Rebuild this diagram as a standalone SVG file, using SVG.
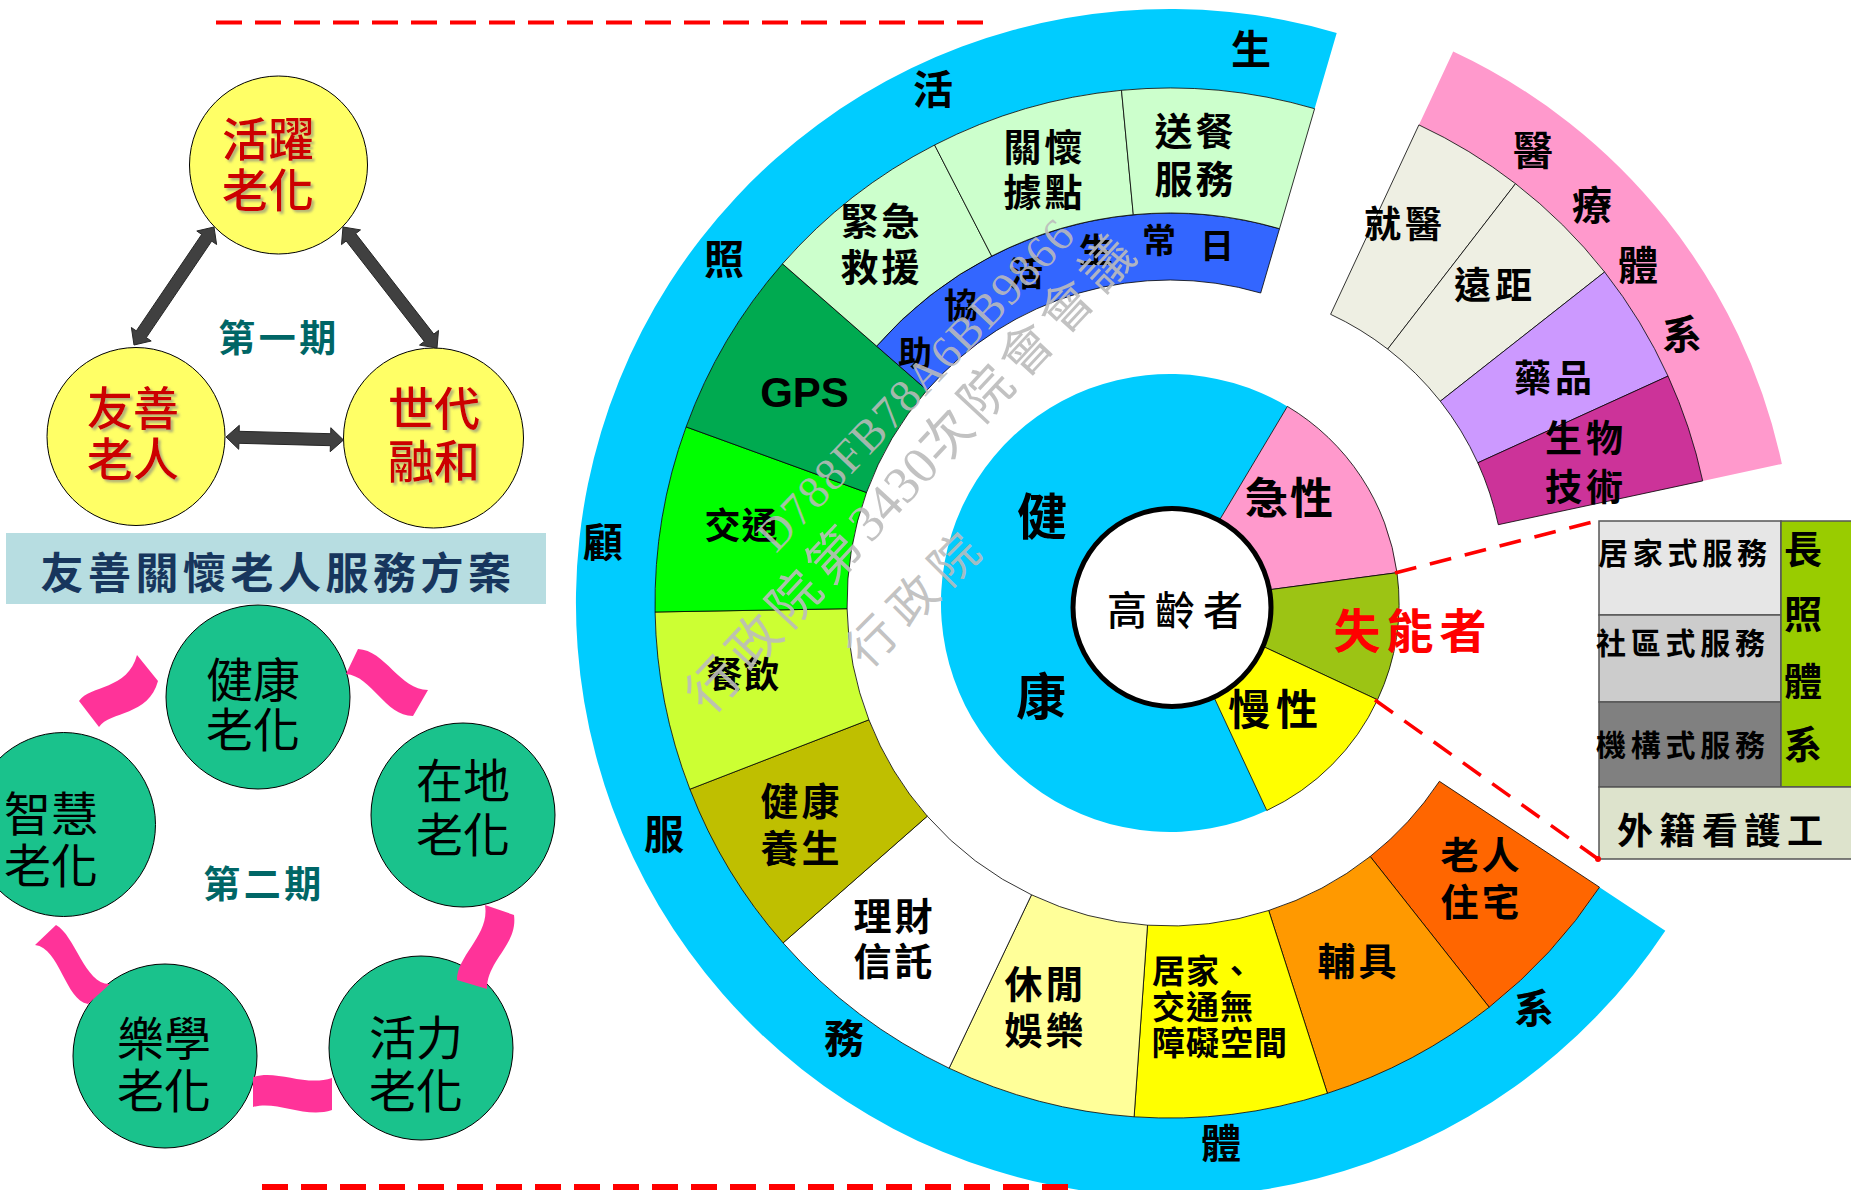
<svg xmlns="http://www.w3.org/2000/svg" width="1851" height="1190" viewBox="0 0 1851 1190">
<defs>
<style>
.b{font-family:"Noto Sans CJK TC","Noto Sans CJK SC",sans-serif;font-weight:700;fill:#000;text-anchor:middle;dominant-baseline:central}
.bs{font-family:"Noto Sans CJK TC","Noto Sans CJK SC",sans-serif;font-weight:700;fill:#000;text-anchor:start;dominant-baseline:central}
.r{font-family:"Noto Sans CJK TC",sans-serif;font-weight:500;fill:#CC0000;font-size:46px;text-anchor:middle;dominant-baseline:central}
.g{font-family:"Noto Sans CJK TC",sans-serif;font-weight:400;fill:#000;font-size:47px;text-anchor:middle;dominant-baseline:central}
.t{font-family:"Noto Sans CJK TC",sans-serif;font-weight:700;fill:#006666;font-size:37px;letter-spacing:3.5px;text-anchor:middle;dominant-baseline:central}
.seg{stroke:#000;stroke-width:0.8}
.wm{font-family:"Liberation Serif","Noto Sans CJK TC",serif;fill:#BBBBBB;fill-opacity:0.9;text-anchor:middle;dominant-baseline:central}
.rib{fill:#FF3399}
.arr{fill:#404040;stroke:#262626;stroke-width:1}
.dash{stroke:#FF0000;fill:none}
.yc{fill:#FFFF66;stroke:#000;stroke-width:1}
.gc{fill:#1AC28C;stroke:#000;stroke-width:1}
.o{font-size:40px}
.m{font-size:38px;letter-spacing:3px}
</style>
<filter id="sh" x="-20%" y="-20%" width="140%" height="140%"><feDropShadow dx="2.5" dy="2.5" stdDeviation="1" flood-color="#808080" flood-opacity="0.6"/></filter>
</defs>
<rect width="1851" height="1190" fill="#FFFFFF"/>

<!-- Phase 1 -->
<g id="phase1">
  <g id="node-huoyue"><circle class="yc" cx="278.5" cy="165" r="89"/>
    <g filter="url(#sh)"><text class="r" x="268" y="135.5">活躍</text><text class="r" x="268" y="187">老化</text></g></g>
  <g id="node-youshan"><circle class="yc" cx="136" cy="436.5" r="89"/>
    <g filter="url(#sh)"><text class="r" x="133" y="405">友善</text><text class="r" x="133" y="455.5">老人</text></g></g>
  <g id="node-shidai"><circle class="yc" cx="433.5" cy="438" r="90"/>
    <g filter="url(#sh)"><text class="r" x="434" y="404.5">世代</text><text class="r" x="434" y="457.5">融和</text></g></g>
  <text class="t" x="279" y="336">第一期</text>
</g>

<g id="title-banner">
  <rect x="6" y="533" width="540" height="71" fill="#B7DDE1"/>
  <text class="b" x="278" y="570" style="font-size:43px;letter-spacing:4.5px;fill:#17365D">友善關懷老人服務方案</text>
</g>

<!-- Phase 2 -->
<g id="phase2">
  <g id="node-jiankang"><circle class="gc" cx="258" cy="697" r="92"/><text class="g" x="253" y="676">健康</text><text class="g" x="253" y="726">老化</text></g>
  <g id="node-zaidi"><circle class="gc" cx="463" cy="815" r="92"/><text class="g" x="463" y="777.5">在地</text><text class="g" x="463" y="831">老化</text></g>
  <g id="node-huoli"><circle class="gc" cx="421" cy="1048" r="92"/><text class="g" x="416" y="1034">活力</text><text class="g" x="416" y="1087.5">老化</text></g>
  <g id="node-lexue"><circle class="gc" cx="165" cy="1056" r="92"/><text class="g" x="164" y="1035">樂學</text><text class="g" x="164" y="1087.5">老化</text></g>
  <g id="node-zhihui"><circle class="gc" cx="63.5" cy="824.5" r="92"/><text class="g" x="51" y="810">智慧</text><text class="g" x="51" y="862">老化</text></g>
  <text class="t" x="264" y="882">第二期</text>
</g>

<!-- Main chart -->
<g id="chart">
  <g id="ring-outer">
    <path d="M1665.3,930.8 A594,594 0 1 1 1336.7,32.9 L1314.6,108.7 A515,515 0 1 0 1599.5,887.2 Z" fill="#00CCFF"/>
  </g>
  <g id="ring-services">
    <path class="seg" fill="#FF6600" d="M1599.5,887.2 A515,515 0 0 1 1489.2,1007.2 L1370.2,856.5 A323,323 0 0 0 1439.4,781.3 Z"/>
    <path class="seg" fill="#FF9900" d="M1489.2,1007.2 A515,515 0 0 1 1327.4,1093.3 L1268.7,910.5 A323,323 0 0 0 1370.2,856.5 Z"/>
    <path class="seg" fill="#FFFF00" d="M1327.4,1093.3 A515,515 0 0 1 1134.1,1116.8 L1147.5,925.2 A323,323 0 0 0 1268.7,910.5 Z"/>
    <path class="seg" fill="#FFFF99" d="M1134.1,1116.8 A515,515 0 0 1 949.1,1068.2 L1031.5,894.8 A323,323 0 0 0 1147.5,925.2 Z"/>
    <path class="seg" fill="#FFFFFF" d="M949.1,1068.2 A515,515 0 0 1 783.1,942.9 L927.3,816.2 A323,323 0 0 0 1031.5,894.8 Z"/>
    <path class="seg" fill="#BFBF00" d="M783.1,942.9 A515,515 0 0 1 689.9,789.2 L868.9,719.8 A323,323 0 0 0 927.3,816.2 Z"/>
    <path class="seg" fill="#CCFF33" d="M689.9,789.2 A515,515 0 0 1 655.1,612.0 L847.1,608.7 A323,323 0 0 0 868.9,719.8 Z"/>
    <path class="seg" fill="#00FF00" d="M655.1,612.0 A515,515 0 0 1 686.1,426.9 L866.5,492.5 A323,323 0 0 0 847.1,608.7 Z"/>
    <path class="seg" fill="#00AA50" d="M686.1,426.9 A515,515 0 0 1 782.5,263.8 L927.0,390.2 A323,323 0 0 0 866.5,492.5 Z"/>
    <path class="seg" fill="#3366FF" d="M876.6,346.1 A390,390 0 0 1 1279.5,228.7 L1260.7,293.0 A323,323 0 0 0 927.0,390.2 Z"/>
    <path class="seg" fill="#CCFFCC" d="M782.5,263.8 A515,515 0 0 1 934.6,145.0 L991.7,256.1 A390,390 0 0 0 876.6,346.1 Z"/>
    <path class="seg" fill="#CCFFCC" d="M934.6,145.0 A515,515 0 0 1 1121.5,90.3 L1133.3,214.7 A390,390 0 0 0 991.7,256.1 Z"/>
    <path class="seg" fill="#CCFFCC" d="M1121.5,90.3 A515,515 0 0 1 1314.6,108.7 L1279.5,228.7 A390,390 0 0 0 1133.3,214.7 Z"/>
  </g>
  <g id="disc">
    <path fill="#00CCFF" d="M1170,603 L1266.8,810.5 A229,229 0 1 1 1287.4,406.4 Z"/>
    <path class="seg" fill="#FF99CC" d="M1170,603 L1287.4,406.4 A229,229 0 0 1 1397.0,572.7 Z"/>
    <path class="seg" fill="#9CC414" d="M1170,603 L1397.0,572.7 A229,229 0 0 1 1377.5,699.8 Z"/>
    <path class="seg" fill="#FFFF00" d="M1170,603 L1377.5,699.8 A229,229 0 0 1 1266.8,810.5 Z"/>
  </g>
  <g id="node-center"><circle cx="1172" cy="607.5" r="99" fill="#FFFFFF" stroke="#000" stroke-width="5"/>
    <text class="b" x="1179" y="608" style="font-size:40px;font-weight:500;letter-spacing:8px">高齡者</text></g>
  <g id="medical">
    <path fill="#FF99CC" d="M1453.2,51.5 A592,592 0 0 1 1781.9,463.9 L1702.7,480.9 A511,511 0 0 0 1418.9,124.9 Z"/>
    <path class="seg" fill="#EEEFE3" d="M1418.9,124.9 A511,511 0 0 1 1515.5,183.7 L1387.7,349.1 A302,302 0 0 0 1330.6,314.3 Z"/>
    <path class="seg" fill="#EEEFE3" d="M1515.5,183.7 A511,511 0 0 1 1604.6,272.0 L1440.3,401.2 A302,302 0 0 0 1387.7,349.1 Z"/>
    <path class="seg" fill="#CC99FF" d="M1604.6,272.0 A511,511 0 0 1 1668.0,376.1 L1477.8,462.8 A302,302 0 0 0 1440.3,401.2 Z"/>
    <path class="seg" fill="#CC3399" d="M1668.0,376.1 A511,511 0 0 1 1702.7,480.9 L1498.3,524.7 A302,302 0 0 0 1477.8,462.8 Z"/>
  </g>
  <g id="longterm">
    <rect x="1599" y="521" width="182" height="94" fill="#E6E6E6" stroke="#555" stroke-width="1.5"/>
    <rect x="1599" y="615" width="182" height="87" fill="#CCCCCC" stroke="#555" stroke-width="1.5"/>
    <rect x="1599" y="702" width="182" height="85" fill="#808080" stroke="#555" stroke-width="1.5"/>
    <rect x="1781" y="521" width="72" height="266" fill="#99CC00" stroke="#555" stroke-width="1.5"/>
    <rect x="1599" y="787" width="254" height="72" fill="#DDE3CC" stroke="#555" stroke-width="1.5"/>
    <text class="bs" x="1598" y="551" style="font-size:30px;letter-spacing:4.75px">居家式服務</text>
    <text class="bs" x="1596" y="641" style="font-size:30px;letter-spacing:4.75px">社區式服務</text>
    <text class="bs" x="1596" y="743" style="font-size:30px;letter-spacing:4.75px">機構式服務</text>
    <text class="bs" x="1617" y="828" style="font-size:36px;letter-spacing:6.5px">外籍看護工</text>
    <text class="b" x="1803" y="546" style="font-size:38px">長</text>
    <text class="b" x="1803" y="611" style="font-size:38px">照</text>
    <text class="b" x="1803" y="678" style="font-size:38px">體</text>
    <text class="b" x="1803" y="741" style="font-size:38px">系</text>
  </g>
</g>

<!-- connectors -->
<g id="connectors">
  <polygon class="arr" points="214,227 196.8,231.0 201.7,234.4 136.3,330.9 131.4,327.5 134,345 151.2,341.0 146.3,337.6 211.7,241.1 216.6,244.5"/>
  <polygon class="arr" points="343,227 341.5,244.6 346.2,241.0 424.3,341.4 419.5,345.1 437,348 438.5,330.4 433.8,334.1 355.7,233.6 360.5,229.9"/>
  <polygon class="arr" points="226,437 238.7,449.3 238.9,443.3 330.4,445.7 330.2,451.7 343.5,440 330.8,427.7 330.7,433.7 239.2,431.3 239.3,425.3"/>
  <path class="rib" d="M79,701 C90,685 128,690 137,655 L158,681 C149,716 110,711 99,727 Z"/>
  <path class="rib" d="M358,649 C385,650 400,690 428,690 L413,716 C385,716 372,676 346,674 Z"/>
  <path class="rib" d="M485,905 L514,915 C518,945 487,960 487,989 L457,980 C457,955 490,935 485,905 Z"/>
  <path class="rib" d="M253,1077 C277,1069 305,1087 332,1078 L332,1110 C305,1119 277,1100 253,1107 Z"/>
  <path class="rib" d="M56,925 C75,935 85,985 110,984 L88,1004 C65,1000 60,948 35,945 Z"/>
  <line class="dash" x1="216" y1="22.5" x2="983" y2="22.5" stroke-width="4" stroke-dasharray="26 13"/>
  <line class="dash" x1="262" y1="1188" x2="1068" y2="1188" stroke-width="8" stroke-dasharray="26 13"/>
  <line class="dash" x1="1395" y1="573" x2="1600" y2="520" stroke-width="3.5" stroke-dasharray="22 14"/>
  <line class="dash" x1="1375" y1="700" x2="1598" y2="859" stroke-width="3.5" stroke-dasharray="22 14"/>
  <circle cx="1598" cy="859" r="3" fill="#FF0000"/>
</g>

<!-- labels -->
<g id="labels">
  <text class="b o" x="1251" y="47">生</text>
  <text class="b o" x="933" y="87">活</text>
  <text class="b o" x="724" y="257">照</text>
  <text class="b o" x="603" y="540">顧</text>
  <text class="b o" x="664" y="832">服</text>
  <text class="b o" x="844" y="1036">務</text>
  <text class="b o" x="1221" y="1141">體</text>
  <text class="b o" x="1534" y="1006">系</text>

  <text class="b m" x="881.5" y="218">緊急</text><text class="b m" x="881.5" y="264">救援</text>
  <text class="b m" x="1044.5" y="144.5">關懷</text><text class="b m" x="1044.5" y="189">據點</text>
  <text class="b m" x="1195.5" y="128.5">送餐</text><text class="b m" x="1195.5" y="176">服務</text>
  <text class="b" x="1217" y="243" style="font-size:34px">日</text>
  <text class="b" x="1159" y="238" style="font-size:34px">常</text>
  <text class="b" x="1096" y="248" style="font-size:34px">生</text>
  <text class="b" x="1026" y="271" style="font-size:34px">活</text>
  <text class="b" x="961" y="303" style="font-size:34px">協</text>
  <text class="b" x="915" y="351" style="font-size:34px">助</text>
  <text x="804.5" y="407" style="font-family:'Liberation Sans',Arial,sans-serif;font-weight:700;font-size:42px;text-anchor:middle">GPS</text>
  <text class="b" x="741.5" y="523" style="font-size:36px;letter-spacing:1px">交通</text>
  <text class="b" x="743.5" y="672" style="font-size:36px;letter-spacing:1px">餐飲</text>
  <text class="b m" x="801.5" y="798">健康</text><text class="b m" x="801.5" y="845">養生</text>
  <text class="b m" x="894.5" y="913">理財</text><text class="b m" x="894.5" y="958">信託</text>
  <text class="b m" x="1045.5" y="981.5">休閒</text><text class="b m" x="1045.5" y="1027.5">娛樂</text>
  <text class="bs" x="1152" y="969" style="font-size:33px;letter-spacing:1px">居家、</text>
  <text class="bs" x="1152" y="1005" style="font-size:33px;letter-spacing:1px">交通無</text>
  <text class="bs" x="1152" y="1041" style="font-size:33px;letter-spacing:1px">障礙空間</text>
  <text class="b m" x="1358.5" y="958">輔具</text>
  <text class="b m" x="1481.5" y="852">老人</text><text class="b m" x="1481.5" y="899">住宅</text>

  <text class="b" x="1042" y="513" style="font-size:50px">健</text>
  <text class="b" x="1041" y="693" style="font-size:50px">康</text>
  <text class="b" x="1290" y="495" style="font-size:43px;letter-spacing:2px">急性</text>
  <text class="b" x="1413" y="627" style="font-size:47px;letter-spacing:6px;fill:#FF0000">失能者</text>
  <text class="b" x="1276" y="706" style="font-size:42px;letter-spacing:6px">慢性</text>

  <text class="b o" x="1533" y="148">醫</text>
  <text class="b o" x="1592" y="203">療</text>
  <text class="b o" x="1638" y="263">體</text>
  <text class="b o" x="1682" y="332">系</text>
  <text class="b" x="1405" y="222" style="font-size:37px;letter-spacing:4px">就醫</text>
  <text class="b" x="1495" y="283" style="font-size:37px;letter-spacing:4px">遠距</text>
  <text class="b" x="1555" y="376" style="font-size:37px;letter-spacing:4px">藥品</text>
  <text class="b" x="1586" y="436" style="font-size:37px;letter-spacing:4px">生物</text>
  <text class="b" x="1586" y="485" style="font-size:37px;letter-spacing:4px">技術</text>
</g>

<!-- watermark -->
<g id="watermark">
  <text class="wm" x="915.5" y="384.5" transform="rotate(-46.5 915.5 384.5)" style="font-size:46px;letter-spacing:1.5px">D788FB78A6BB9866</text>
  <text class="wm" x="913" y="472" transform="rotate(-47 913 472)" style="font-size:52px"><tspan style="letter-spacing:7px">行政院第</tspan><tspan style="letter-spacing:0px">3430</tspan><tspan style="letter-spacing:7px">次院會會議</tspan></text>
  <text class="wm" x="917" y="597" transform="rotate(-45 917 597)" style="font-size:48px;letter-spacing:10px">行政院</text>
</g>
</svg>
